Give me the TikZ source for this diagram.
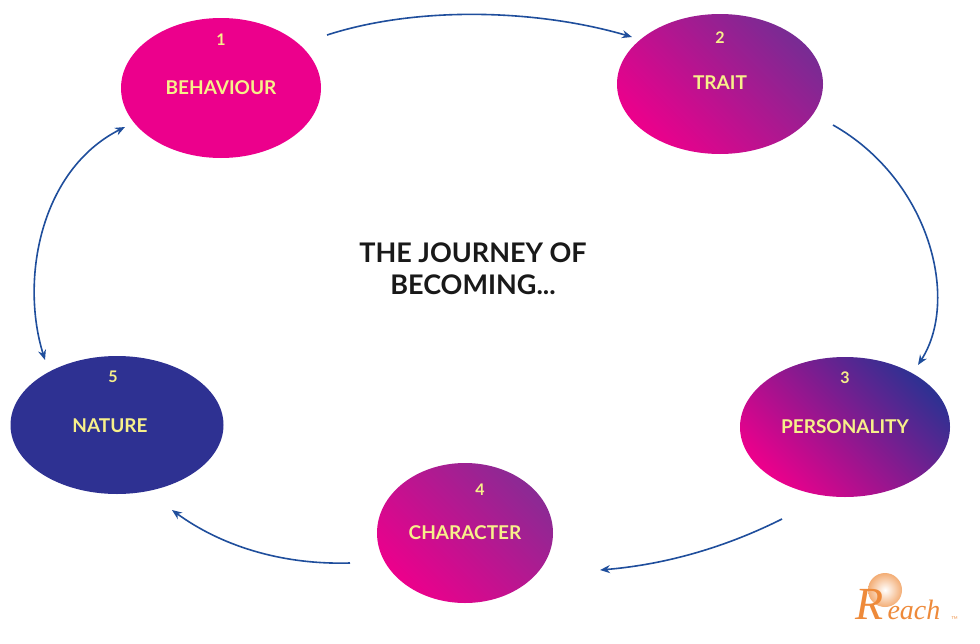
\documentclass[tikz,border=0pt]{standalone}
\usepackage{fontspec}
\setmainfont{Lato}
\newfontfamily\serifit{Liberation Serif}
\usetikzlibrary{arrows.meta,shapes.geometric}
\definecolor{pk}{HTML}{EC008C}
\definecolor{nv}{HTML}{2E3192}
\definecolor{pu}{HTML}{8B2A94}
\definecolor{yl}{HTML}{F7F08A}
\definecolor{ar}{HTML}{1F4E9C}
\definecolor{og}{HTML}{EE8A3A}
\begin{document}
\begin{tikzpicture}[x=1pt,y=-1pt,
  blob/.style={ellipse,minimum width=#1,inner sep=0pt},
  lab/.style={text=yl,font=\bfseries\fontsize{19}{21}\selectfont},
  num/.style={text=yl,font=\bfseries\fontsize{16}{18}\selectfont},
  con/.style={draw=ar,line width=1.6pt,-{Stealth[length=10pt,width=8pt]}}]
\useasboundingbox (0,0) rectangle (980,643);
\fill[white] (0,0) rectangle (980,643);
% ellipses
\node[blob=200pt,minimum height=140pt,fill=pk] (e1) at (221,88) {};
\node[blob=206pt,minimum height=140pt,left color=pu!80!nv,right color=pk,shading angle=-45] (e2) at (720,84) {};
\node[blob=210pt,minimum height=140pt,left color=nv,right color=pk,shading angle=-45] (e3) at (845,427) {};
\node[blob=176pt,minimum height=140pt,top color=pu,bottom color=pk,shading angle=-45] (e4) at (465,533) {};
\node[blob=213pt,minimum height=138pt,fill=nv] (e5) at (117,425) {};
% texts
\node[num] (n1) at (221,40) {1};
\node[lab] (l1) at (221,88) {BEHAVIOUR};
\node[num] (n2) at (720,38) {2};
\node[lab] (l2) at (720,83) {TRAIT};
\node[num] (n3) at (845,378) {3};
\node[lab] (l3) at (845,427) {PERSONALITY};
\node[num] (n4) at (480,490) {4};
\node[lab] (l4) at (465,533) {CHARACTER};
\node[num] (n5) at (113,377) {5};
\node[lab] (l5) at (110,426) {NATURE};
\node[font=\bfseries\fontsize{27}{32}\selectfont,text=black!90,align=center] (t) at (473,269) {THE JOURNEY OF\\BECOMING...};
% arrow ends
\coordinate (a1) at (327,35); \coordinate (b1) at (632,37);
\coordinate (a2) at (833,125); \coordinate (b2) at (918,365);
\coordinate (a3) at (782,519); \coordinate (b3) at (600,570);
\coordinate (a4) at (350,563); \coordinate (b4) at (172,510);
\coordinate (a5) at (45,360); \coordinate (b5) at (125,127);
\draw[con] (a1) .. controls (420,5) and (540,10) .. (b1);
\draw[con] (a2) .. controls (930,180) and (960,300) .. (b2);
\draw[con] (a3) .. controls (720,550) and (660,565) .. (b3);
\draw[con] (a4) .. controls (280,565) and (220,545) .. (b4);
\draw[draw=ar,line width=1.6pt,{Stealth[length=10pt,width=8pt]}-{Stealth[length=10pt,width=8pt]}] (a5) .. controls (20,280) and (40,170) .. (b5);
% logo
\shade[inner color=white,outer color=og!70] (885,590) circle (17);
\node[text=og,font=\serifit\itshape\fontsize{46}{46}\selectfont,anchor=west] (R) at (852,604) {R};
\node[text=og,font=\serifit\itshape\fontsize{28}{28}\selectfont,anchor=west] (eh) at (884,610) {each};
\node[text=og,font=\fontsize{4}{4}\selectfont,anchor=west] (tm) at (948,618) {TM};
\end{tikzpicture}
\end{document}
